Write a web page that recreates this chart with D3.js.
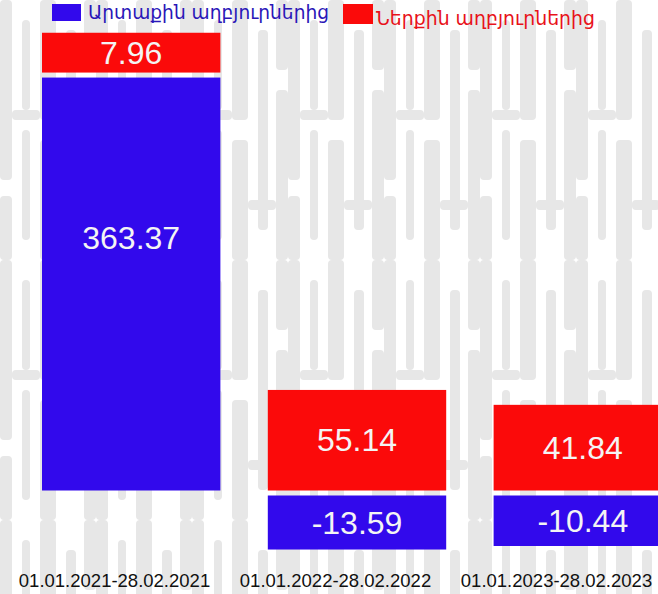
<!DOCTYPE html>
<html><head><meta charset="utf-8">
<script src="https://cdn.jsdelivr.net/npm/d3@7"></script>
<style>body{margin:0;background:#fff}svg{display:block}</style>
</head><body><svg id="c" width="658" height="594"></svg>
<script>
const categories = ["01.01.2021-28.02.2021", "01.01.2022-28.02.2022", "01.01.2023-28.02.2023"];
const seriesNames = ["Արտաքին աղբյուրներից", "Ներքին աղբյուրներից"];
const external = [363.37, -13.59, -10.44];
const internal = [7.96, 55.14, 41.84];

const W = 658, H = 594;
const svg = d3.select("#c");
const colors = ["#3209ec", "#fb0a0a"];
const legendText = ["#2a16b8", "#e8121a"];

// background watermark texture (decorative)
const defs = svg.append("defs");
const pat = defs.append("pattern").attr("id", "tex").attr("patternUnits", "userSpaceOnUse")
  .attr("width", 96).attr("height", 260);
const texRects = [
  [0, 0, 12, 180], [0, 196, 12, 64], [22, 20, 8, 90], [22, 130, 8, 110],
  [40, 0, 16, 120], [40, 140, 16, 120], [66, 30, 10, 200], [84, 0, 12, 70], [84, 90, 12, 170],
  [12, 110, 28, 10], [56, 200, 28, 10]
];
texRects.forEach(r => pat.append("rect").attr("x", r[0]).attr("y", r[1]).attr("width", r[2]).attr("height", r[3])
  .attr("rx", 4).attr("fill", "#e7e7e7"));
svg.append("rect").attr("width", W).attr("height", H).attr("fill", "#fff");
svg.append("rect").attr("width", W).attr("height", H).attr("fill", "url(#tex)");

// scales
const x = d3.scaleBand().domain(categories).range([42, 672]).paddingInner(0.21).paddingOuter(0);
const xl = d3.scaleBand().domain(categories).range([4, 667]);
// broken (piecewise) magnitude scale: segment length in px
const h = d3.scaleLinear().domain([0, 10, 60, 400]).range([0, 50, 106, 450]);
const zeroY = 493, gap = 5;

const segs = [];
categories.forEach((c, i) => {
  let pos = zeroY - gap / 2, neg = zeroY + gap / 2;
  [external[i], internal[i]].forEach((v, s) => {
    const len = h(Math.abs(v));
    let y0;
    if (v >= 0) { y0 = pos - len; pos = y0 - gap; }
    else { y0 = neg; neg = neg + len + gap; }
    segs.push({c, s, v, y: y0, len});
  });
});

const g = svg.append("g");
g.selectAll("rect.bar").data(segs).join("rect").attr("class", "bar")
  .attr("x", d => x(d.c)).attr("width", x.bandwidth())
  .attr("y", d => d.y).attr("height", d => d.len)
  .attr("fill", d => colors[d.s]);

g.selectAll("text.val").data(segs).join("text").attr("class", "val")
  .attr("x", d => x(d.c) + x.bandwidth() / 2)
  .attr("y", d => d.y + Math.min(d.len / 2, 160))
  .attr("text-anchor", "middle").attr("dominant-baseline", "central")
  .attr("font-family", "'Liberation Sans', Arial, sans-serif").attr("font-size", 32)
  .attr("fill", "#f4f4f4")
  .text(d => d.v.toFixed(2));

// x axis labels
const ax = svg.append("g").attr("transform", `translate(0,${587})`)
  .call(d3.axisBottom(xl).tickSize(0).tickPadding(0));
ax.select(".domain").remove();
ax.selectAll("text").attr("dy", 0).attr("y", 0)
  .attr("font-family", "'Liberation Sans', Arial, sans-serif").attr("font-size", 18.5)
  .attr("fill", "#111");

// legend
const leg = [
  {rx: 52, ry: 4, rw: 29, rh: 17, tx: 88, ty: 19, tl: 241},
  {rx: 343, ry: 4, rw: 30, rh: 20, tx: 376, ty: 25, tl: 219}
];
const lg = svg.append("g");
leg.forEach((l, i) => {
  lg.append("rect").attr("x", l.rx).attr("y", l.ry).attr("width", l.rw).attr("height", l.rh).attr("fill", colors[i]);
  lg.append("text").attr("x", l.tx).attr("y", l.ty)
    .attr("font-family", "'DejaVu Sans', 'Noto Sans', sans-serif").attr("font-size", 19)
    .attr("textLength", l.tl).attr("lengthAdjust", "spacingAndGlyphs")
    .attr("fill", legendText[i]).text(seriesNames[i]);
});
</script></body></html>
